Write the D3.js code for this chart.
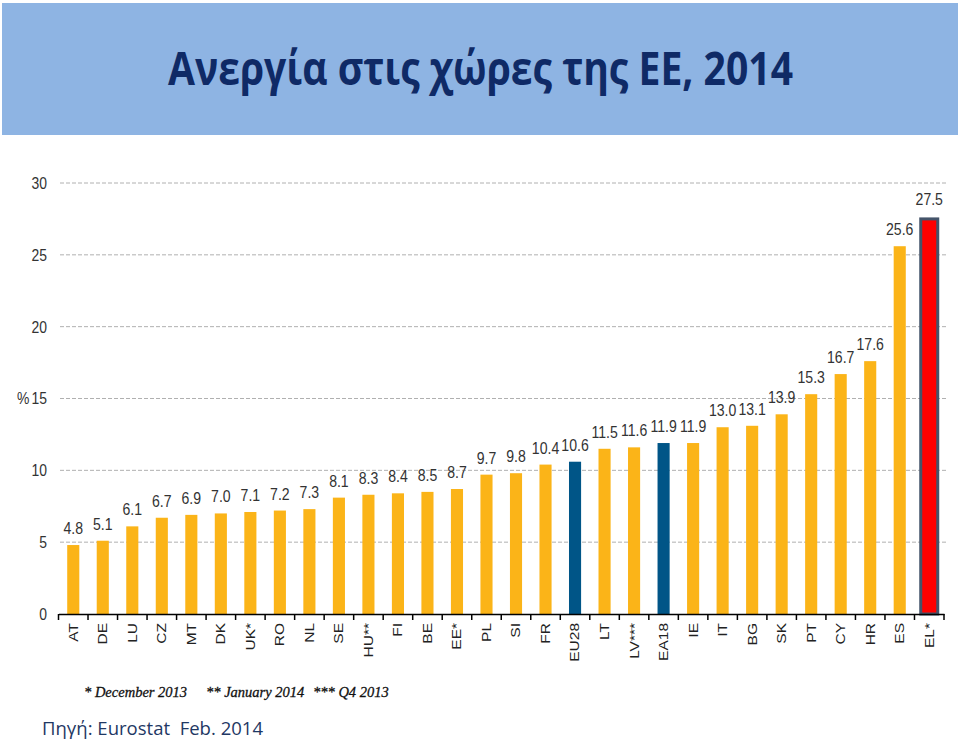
<!DOCTYPE html>
<html>
<head>
<meta charset="utf-8">
<script src="https://cdn.jsdelivr.net/npm/d3@7/dist/d3.min.js"></script>
<style>
  html, body { margin: 0; padding: 0; background: #fff; }
  svg { display: block; }
</style>
</head>
<body>
<svg id="chart" width="960" height="744"></svg>
<script>
const categories = ["AT","DE","LU","CZ","MT","DK","UK*","RO","NL","SE","HU**","FI","BE","EE*","PL","SI","FR","EU28","LT","LV***","EA18","IE","IT","BG","SK","PT","CY","HR","ES","EL*"];
const values = [4.8,5.1,6.1,6.7,6.9,7.0,7.1,7.2,7.3,8.1,8.3,8.4,8.5,8.7,9.7,9.8,10.4,10.6,11.5,11.6,11.9,11.9,13.0,13.1,13.9,15.3,16.7,17.6,25.6,27.5];
const valueLabels = ["4.8","5.1","6.1","6.7","6.9","7.0","7.1","7.2","7.3","8.1","8.3","8.4","8.5","8.7","9.7","9.8","10.4","10.6","11.5","11.6","11.9","11.9","13.0","13.1","13.9","15.3","16.7","17.6","25.6","27.5"];
const yTicks = [0,5,10,15,20,25,30];
const aggregates = ["EU28","EA18"];
const highlight = ["EL*"];
const titleText = "Ανεργία στις χώρες της ΕΕ, 2014";
const footnotes = ["* December 2013", "** January 2014", "*** Q4 2013"];
const sourceText = "Πηγή: Eurostat  Feb. 2014";

const svg = d3.select("#chart");
const sans = "Arial, 'Liberation Sans', sans-serif";

// Title banner
svg.append("rect").attr("x", 2).attr("y", 3).attr("width", 956).attr("height", 132).attr("fill", "#8eb4e3");
svg.append("text")
  .attr("x", 168).attr("y", 85)
  .attr("textLength", 625).attr("lengthAdjust", "spacingAndGlyphs")
  .attr("font-family", "'Open Sans', sans-serif").attr("font-weight", "bold")
  .attr("font-size", 47).attr("fill", "#0f2a66")
  .text(titleText);

const x = d3.scaleBand().domain(categories).range([58.5, 944]).padding(0);
const y = d3.scaleLinear().domain([0, 30]).range([614, 183]);

// gridlines
svg.append("g").selectAll("line").data(yTicks.filter(d => d > 0)).join("line")
  .attr("x1", 60).attr("x2", 946)
  .attr("y1", d => y(d)).attr("y2", d => y(d))
  .attr("stroke", "#b0b0b0").attr("stroke-width", 1).attr("stroke-dasharray", "4,2");

// y axis labels
const yAxis = d3.axisLeft(y).tickValues(yTicks).tickSize(0).tickPadding(0);
const yg = svg.append("g").attr("transform", "translate(47,0)").call(yAxis);
yg.select(".domain").remove();
yg.selectAll("text").attr("font-family", sans).attr("font-size", 17).attr("fill", "#333")
  .attr("transform", "scale(0.82,1)");
svg.append("text").attr("transform", "translate(17,404) scale(0.82,1)").attr("font-family", sans)
  .attr("font-size", 17).attr("fill", "#333").text("%");

// bars
const bw = x.bandwidth() * 0.41;
svg.append("g").selectAll("rect").data(categories).join("rect")
  .attr("x", (d) => highlight.includes(d) ? x(d) + x.bandwidth()/2 - 8.5 : x(d) + x.bandwidth()/2 - bw/2)
  .attr("width", d => highlight.includes(d) ? 17 : bw)
  .attr("y", (d, i) => y(values[i]))
  .attr("height", (d, i) => y(0) - y(values[i]))
  .attr("fill", d => highlight.includes(d) ? "#ff0000" : aggregates.includes(d) ? "#005587" : "#fbb418")
  .attr("stroke", d => highlight.includes(d) ? "#44546a" : "none")
  .attr("stroke-width", d => highlight.includes(d) ? 3 : 0);

// value labels
svg.append("g").selectAll("text").data(categories).join("text")
  .attr("transform", (d, i) => `translate(${x(d) + x.bandwidth()/2},${y(values[i]) - (highlight.includes(d) ? 14 : 11)}) scale(0.88,1)`)
  .attr("text-anchor", "middle")
  .attr("font-family", sans).attr("font-size", 16).attr("fill", "#333")
  .text((d, i) => valueLabels[i]);

// x axis
const xAxis = d3.axisBottom(x).tickSize(0).tickPadding(0);
const xg = svg.append("g").attr("transform", `translate(0,${y(0)})`).call(xAxis);
xg.select(".domain").attr("stroke", "#000").attr("stroke-width", 1.5);
xg.selectAll(".tick text")
  .attr("font-family", sans).attr("font-size", 15.5).attr("fill", "#222")
  .attr("text-anchor", "end").attr("dy", "0.35em")
  .attr("transform", "translate(0,9) rotate(-90) scale(1,0.82)");
// band boundary ticks
const bounds = categories.map(c => x(c)).concat([x.range()[1]]);
svg.append("g").selectAll("line").data(bounds).join("line")
  .attr("x1", d => d).attr("x2", d => d).attr("y1", y(0)).attr("y2", y(0) + 6)
  .attr("stroke", "#000").attr("stroke-width", 1.5);

// footnotes
const fnX = [84, 206, 313];
svg.append("g").selectAll("text").data(footnotes).join("text")
  .attr("x", (d, i) => fnX[i]).attr("y", 697)
  .attr("font-family", "'Liberation Serif', 'Times New Roman', serif").attr("font-style", "italic")
  .attr("font-size", 14.5).attr("fill", "#111").attr("stroke", "#111").attr("stroke-width", 0.3)
  .text(d => d);

// source
svg.append("text").attr("x", 42).attr("y", 735)
  .attr("xml:space", "preserve").style("white-space", "pre")
  .attr("textLength", 221).attr("lengthAdjust", "spacingAndGlyphs")
  .attr("font-family", "'Open Sans', sans-serif").attr("font-size", 18).attr("fill", "#1f3864")
  .text(sourceText);
</script>
</body>
</html>
